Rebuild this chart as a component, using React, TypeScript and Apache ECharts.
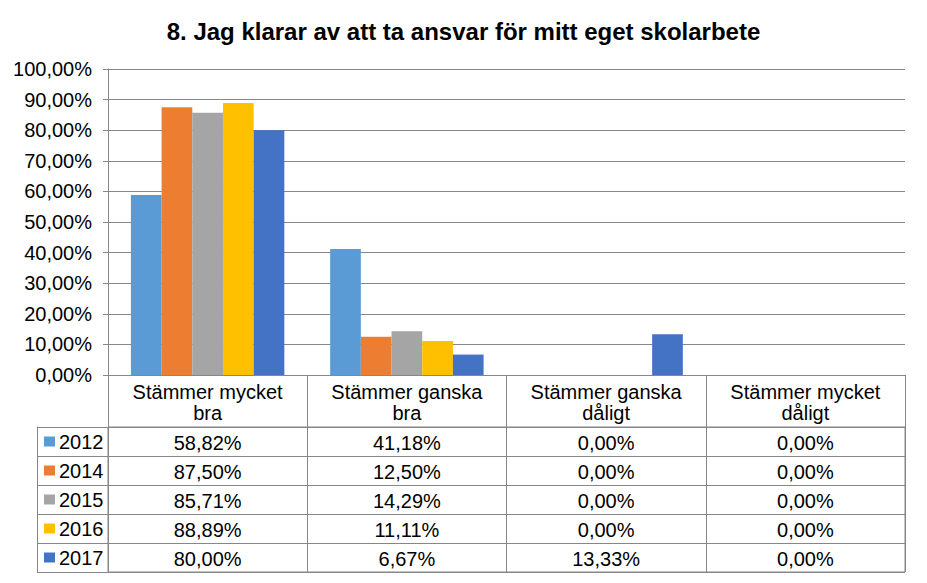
import React, { useEffect, useRef } from "react";
import * as echarts from "echarts";

const title = "8. Jag klarar av att ta ansvar för mitt eget skolarbete";
const categories = [
  "Stämmer mycket\nbra",
  "Stämmer ganska\nbra",
  "Stämmer ganska\ndåligt",
  "Stämmer mycket\ndåligt",
];
const years = ["2012", "2014", "2015", "2016", "2017"];
const v2012 = [0.5882, 0.4118, 0.0, 0.0];
const v2014 = [0.875, 0.125, 0.0, 0.0];
const v2015 = [0.8571, 0.1429, 0.0, 0.0];
const v2016 = [0.8889, 0.1111, 0.0, 0.0];
const v2017 = [0.8, 0.0667, 0.1333, 0.0];
const colors = ["#5B9BD5", "#ED7D31", "#A5A5A5", "#FFC000", "#4472C4"];
const yTicks = [0, 0.1, 0.2, 0.3, 0.4, 0.5, 0.6, 0.7, 0.8, 0.9, 1.0];

const seriesValues = [v2012, v2014, v2015, v2016, v2017];

const fmt = (v: number) => (v * 100).toFixed(2).replace(".", ",") + "%";

const FONT = "'Liberation Sans', Arial, sans-serif";
const LINE = "#878787";
const FS = 20;

export default function App() {
  const ref = useRef<HTMLDivElement>(null);

  useEffect(() => {
    document.body.style.margin = "0";
    if (!ref.current) return;
    const chart = echarts.init(ref.current, undefined, { renderer: "svg" });

    const cellData: any[] = [];
    const cellText: string[] = [];
    seriesValues.forEach((vals, r) => {
      vals.forEach((v, c) => {
        cellData.push([c, r]);
        cellText.push(fmt(v));
      });
    });

    const rich: any = {
      t: { fontSize: FS, fontFamily: FONT, color: "#000", padding: [0, 0, 0, 4] },
    };
    colors.forEach((c, i) => {
      rich["s" + i] = { backgroundColor: c, width: 11, height: 10 };
    });

    const option: any = {
      animation: false,
      backgroundColor: "#fff",
      textStyle: { fontFamily: FONT },
      title: {
        text: title,
        left: "center",
        top: 14,
        textStyle: { fontSize: 24, fontWeight: "bold", color: "#000", fontFamily: FONT },
      },
      grid: [
        { left: 108, right: 22, top: 69, bottom: 583 - 375, containLabel: false },
        {
          left: 108,
          right: 22,
          top: 427,
          bottom: 583 - 572,
          show: true,
          borderColor: LINE,
          borderWidth: 1,
          backgroundColor: "transparent",
        },
      ],
      xAxis: [
        {
          type: "category",
          gridIndex: 0,
          data: categories,
          axisLine: { show: true, lineStyle: { color: LINE, width: 1 } },
          axisTick: { show: true, interval: 0, length: 52, lineStyle: { color: LINE } },
          axisLabel: {
            interval: 0,
            margin: 6,
            fontSize: FS,
            lineHeight: 21,
            color: "#000",
            fontFamily: FONT,
          },
          splitLine: { show: false },
        },
        {
          type: "category",
          gridIndex: 1,
          data: categories,
          axisLine: { show: false },
          axisTick: { show: false },
          axisLabel: { show: false },
          splitLine: { show: true, interval: 0, lineStyle: { color: LINE, width: 1 } },
        },
      ],
      yAxis: [
        {
          type: "value",
          gridIndex: 0,
          min: 0,
          max: 1,
          interval: 0.1,
          axisLine: { show: true, lineStyle: { color: LINE } },
          axisTick: { show: true, length: 5, lineStyle: { color: LINE } },
          splitLine: { show: true, lineStyle: { color: LINE, width: 1 } },
          axisLabel: {
            margin: 16,
            fontSize: FS,
            color: "#000",
            fontFamily: FONT,
            customValues: yTicks,
            formatter: (v: number) => fmt(v),
          },
        },
        {
          type: "category",
          gridIndex: 1,
          data: years,
          inverse: true,
          axisLine: { show: false },
          axisTick: { show: true, interval: 0, length: 71, lineStyle: { color: LINE } },
          splitLine: { show: true, interval: 0, lineStyle: { color: LINE, width: 1 } },
          axisLabel: {
            interval: 0,
            align: "left",
            margin: 64,
            formatter: (v: string, i: number) => `{s${i}|}{t|${v}}`,
            rich,
          },
        },
        {
          type: "category",
          gridIndex: 1,
          data: years,
          inverse: true,
          position: "left",
          offset: 71,
          axisLine: { show: true, lineStyle: { color: LINE } },
          axisTick: { show: false },
          axisLabel: { show: false },
          splitLine: { show: false },
        },
      ],
      series: [
        ...seriesValues.map((vals, i) => ({
          type: "bar",
          name: years[i],
          xAxisIndex: 0,
          yAxisIndex: 0,
          data: vals,
          barGap: "0%",
          barCategoryGap: "23%",
          itemStyle: { color: colors[i] },
        })),
        {
          type: "custom",
          xAxisIndex: 1,
          yAxisIndex: 1,
          data: cellData,
          renderItem: (params: any, api: any) => {
            const p = api.coord([api.value(0), api.value(1)]);
            return {
              type: "text",
              x: p[0],
              y: p[1] + 1,
              style: {
                text: cellText[params.dataIndex],
                align: "center",
                verticalAlign: "middle",
                fontSize: FS,
                fontFamily: FONT,
                fill: "#000",
              },
            };
          },
        },
      ],
    };

    chart.setOption(option);
    return () => chart.dispose();
  }, []);

  return <div ref={ref} style={{ width: 927, height: 583 }} />;
}
